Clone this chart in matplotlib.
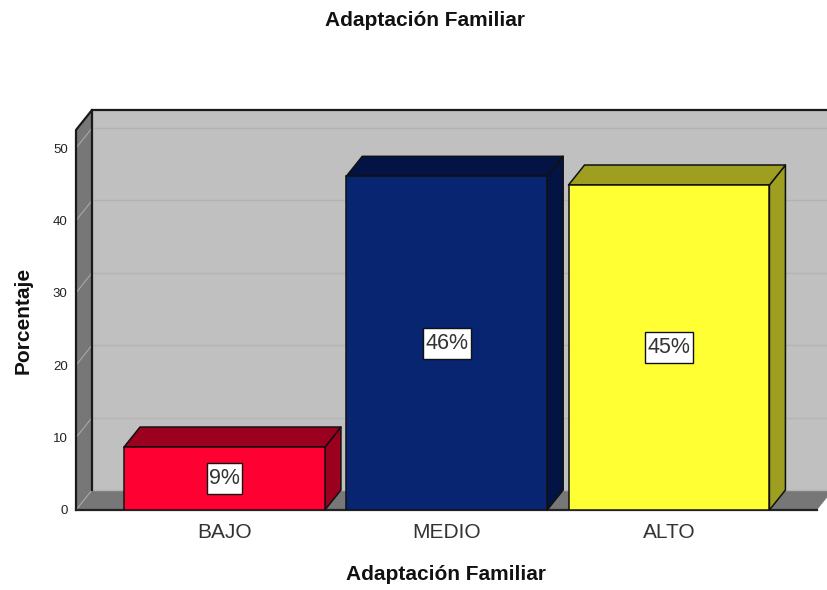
import matplotlib
matplotlib.use('Agg')
import matplotlib.pyplot as plt
from matplotlib.patches import Polygon, Rectangle
from matplotlib.transforms import IdentityTransform

plt.rcParams['font.family'] = ['Liberation Sans', 'DejaVu Sans']

categories = ['BAJO', 'MEDIO', 'ALTO']
values = [8.7, 46.1, 44.9]
labels = ['9%', '46%', '45%']
front_colors = ['#ff0033', '#072570', '#ffff33']
top_colors = ['#9b001f', '#031444', '#9e9e20']
y_ticks = [0, 10, 20, 30, 40, 50]

W, H = 827, 590
BAR_W = 0.904
Y_MAX = 52.5
X_MIN, X_MAX = -0.668, 2.666

fig = plt.figure(figsize=(W / 100, H / 100), dpi=100)
# axes box is the front plane of the 3D frame
ax = fig.add_axes([76 / W, 1 - 510 / H, (817 - 76) / W, (510 - 130) / H])
ax.set_xlim(X_MIN, X_MAX)
ax.set_ylim(0, Y_MAX)

# depth of the fake 3D, in data units
DX = 16 / (741 / (X_MAX - X_MIN))
DY = 20 / (380 / Y_MAX)


def face(points, color, z, edge='none', lw=0):
    ax.add_patch(Polygon(points, closed=True, facecolor=color, edgecolor=edge,
                         linewidth=lw, zorder=z, clip_on=False, joinstyle='round'))


# walls and floor
face([(X_MIN + DX, DY), (X_MAX + DX, DY), (X_MAX + DX, Y_MAX + DY), (X_MIN + DX, Y_MAX + DY)], '#c0c0c0', 1)
face([(X_MIN, 0), (X_MIN + DX, DY), (X_MIN + DX, Y_MAX + DY), (X_MIN, Y_MAX)], '#777777', 1)
face([(X_MIN, 0), (X_MAX, 0), (X_MAX + DX, DY), (X_MIN + DX, DY)], '#777777', 1)

# grid lines on the walls
for t in y_ticks:
    ax.plot([X_MIN + DX, X_MAX + DX], [t + DY, t + DY], color='#b3b3b3', lw=1.0, zorder=2, clip_on=False)
    ax.plot([X_MIN, X_MIN + DX], [t, t + DY], color='#a8a8a8', lw=0.8, zorder=2, clip_on=False)

# frame edges
ax.plot([X_MIN, X_MIN, X_MIN + DX, X_MAX + DX], [0, Y_MAX, Y_MAX + DY, Y_MAX + DY],
        color='#1a1a1a', lw=1.6, zorder=3, clip_on=False)
ax.plot([X_MIN + DX, X_MIN + DX], [DY, Y_MAX + DY], color='#1a1a1a', lw=1.6, zorder=3, clip_on=False)
ax.plot([X_MIN, X_MAX], [0, 0], color='#222222', lw=1.6, zorder=3, clip_on=False)

# bars
value_texts = []
for i, v in enumerate(values):
    l, r = i - BAR_W / 2, i + BAR_W / 2
    face([(r, 0), (r + DX, DY), (r + DX, v + DY), (r, v)], top_colors[i], 4, '#111111', 1.1)
    face([(l, v), (r, v), (r + DX, v + DY), (l + DX, v + DY)], top_colors[i], 4, '#111111', 1.1)
    ax.bar(i, v, width=BAR_W, color=front_colors[i], edgecolor='#111111', linewidth=1.1, zorder=5)
    value_texts.append(ax.text(i, v / 2, labels[i], fontsize=15.5, color='#333333',
                               ha='center', va='center', zorder=7))

# label boxes are tall and narrow, so they are sized from the text extent
renderer = fig.canvas.get_renderer()
for txt in value_texts:
    bb = txt.get_window_extent(renderer)
    cx, cy = (bb.x0 + bb.x1) / 2, (bb.y0 + bb.y1) / 2
    bw, bh = bb.width + 5, 31
    ax.add_patch(Rectangle((cx - bw / 2, cy - bh / 2), bw, bh, transform=IdentityTransform(),
                           facecolor='white', edgecolor='#111111', linewidth=1, zorder=6))

ax.set_xticks(range(len(categories)))
ax.set_xticklabels(categories, fontsize=15, color='#333333')
ax.set_yticks(y_ticks)
ax.set_yticklabels([str(t) for t in y_ticks], fontsize=9.5, color='#222222')
ax.tick_params(axis='both', length=0)
ax.tick_params(axis='x', pad=9)
ax.tick_params(axis='y', pad=6)
for s in ax.spines.values():
    s.set_visible(False)
ax.patch.set_visible(False)

fig.text(425 / W, 1 - 21 / H, 'Adaptación Familiar', fontsize=15, fontweight='bold', color='#111111',
         ha='center', va='center')
fig.text(446 / W, 1 - 575 / H, 'Adaptación Familiar', fontsize=15, fontweight='bold', color='#111111',
         ha='center', va='center')
fig.text(23 / W, 1 - 320 / H, 'Porcentaje', fontsize=15, fontweight='bold', color='#111111',
         rotation=90, ha='center', va='center')

fig.savefig('out.png', dpi=100)
